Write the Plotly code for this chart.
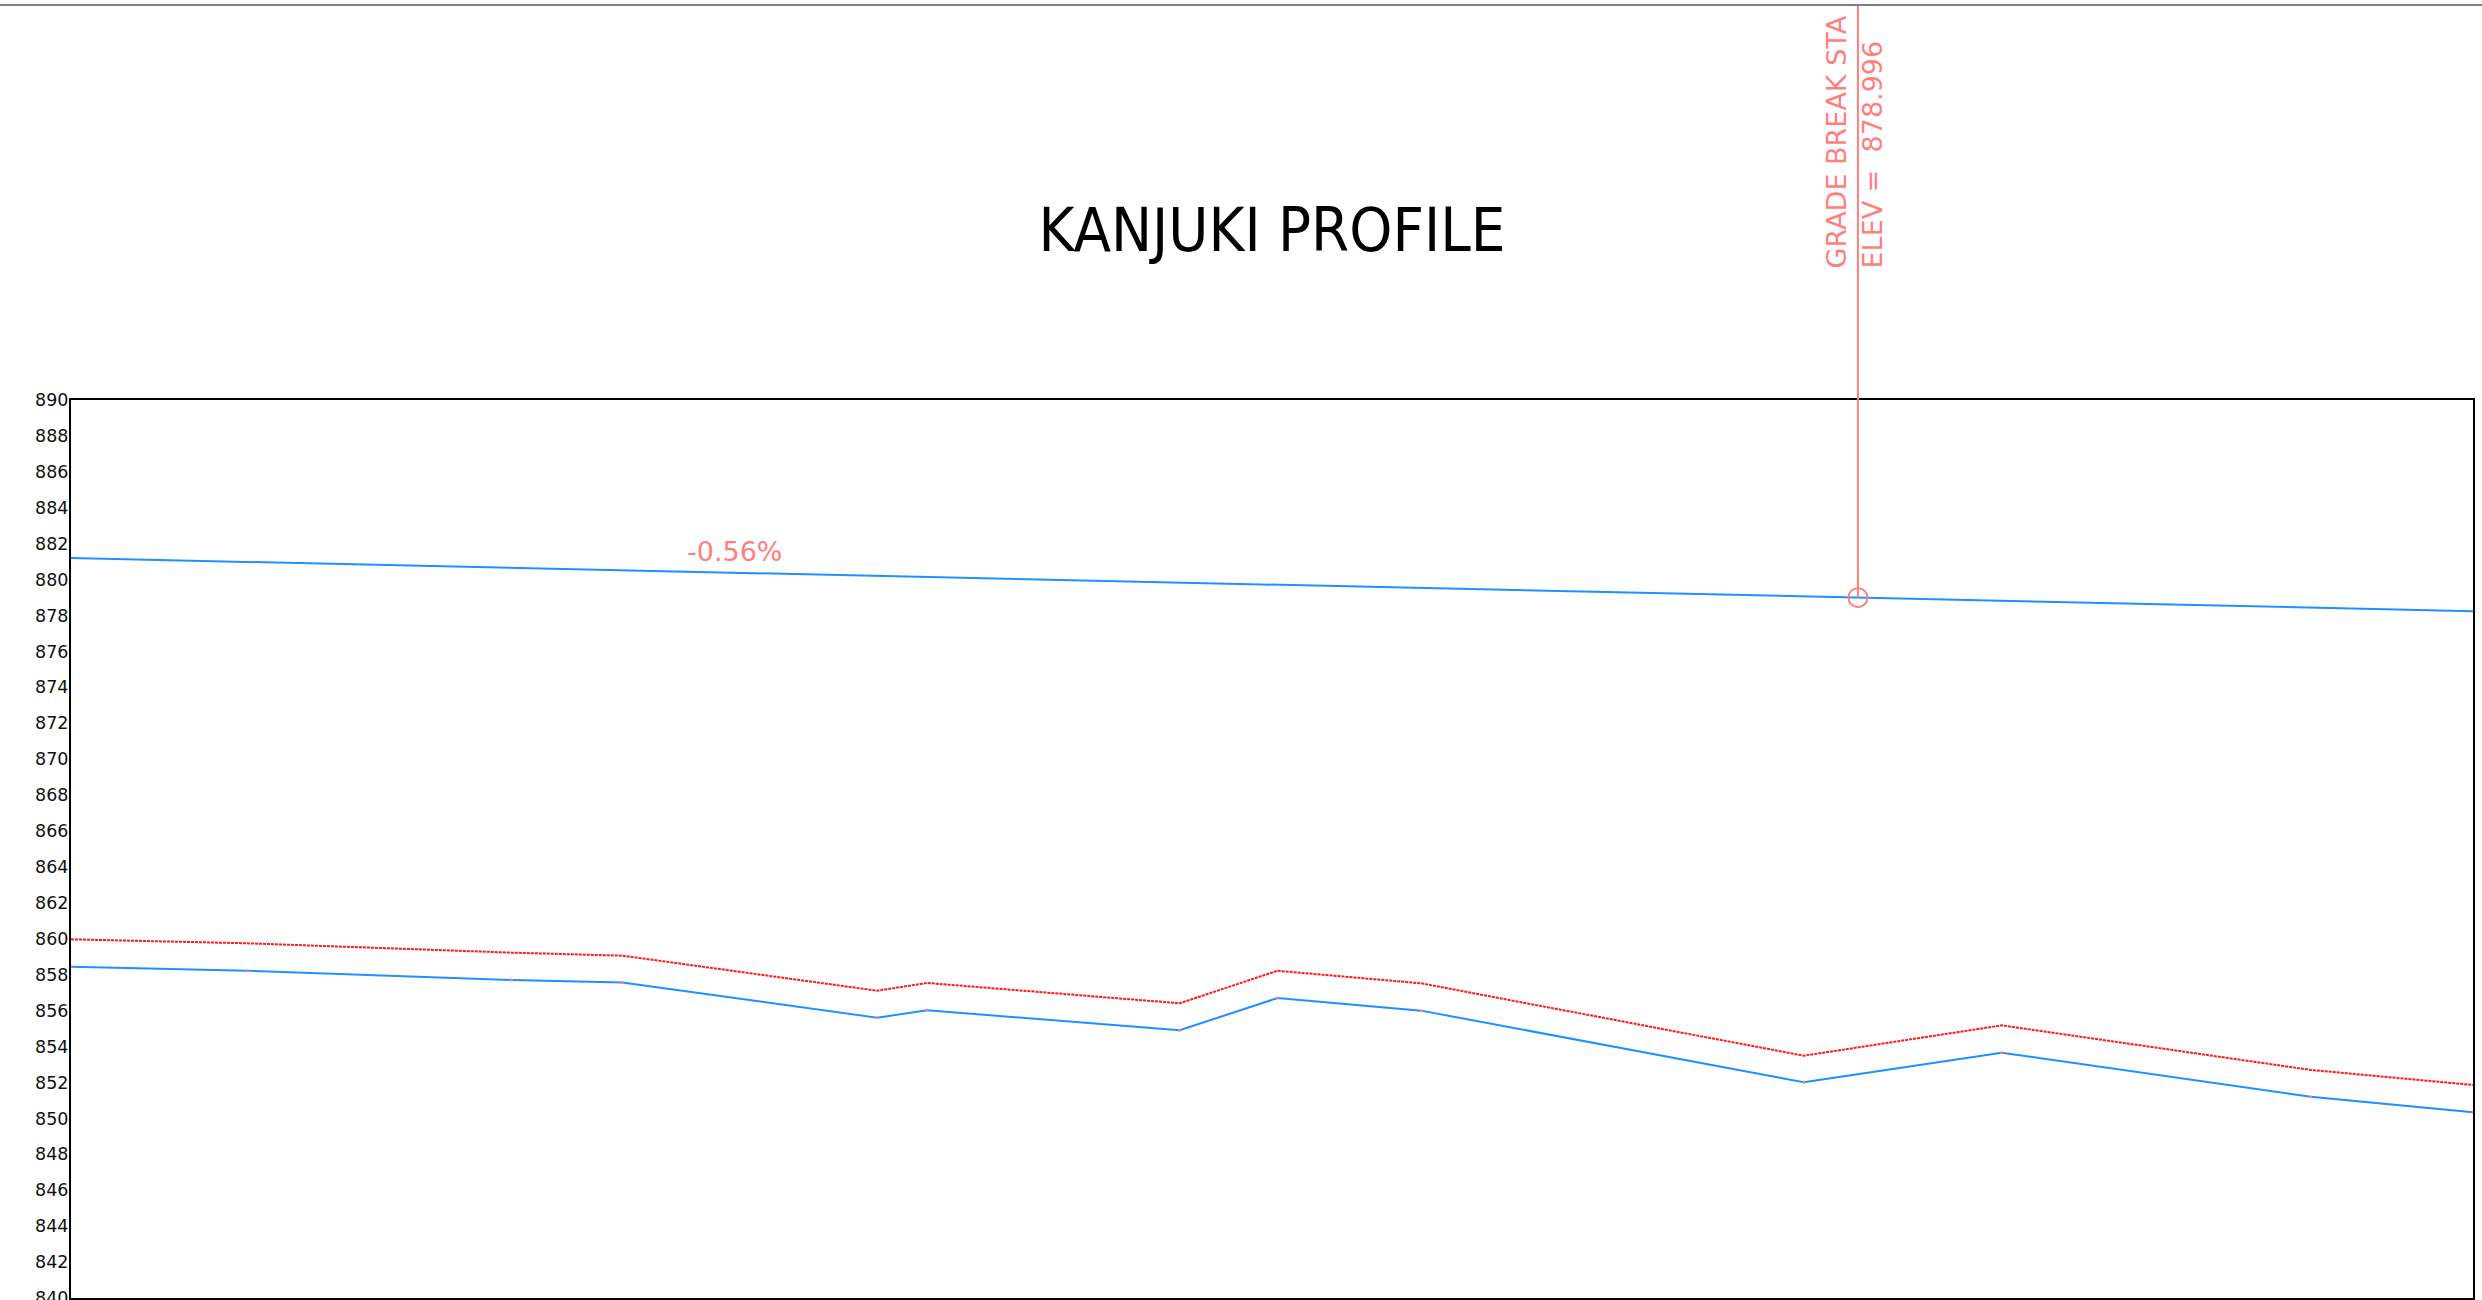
import plotly.graph_objects as go

# ---- data ----
stations = [0, 38.8, 96.8, 121.2, 177.2, 188.2, 243.7, 265.2, 296.8, 380.9, 424.4, 492.3, 528]
ground_red = [859.97, 859.75, 859.23, 859.06, 857.11, 857.54, 856.41, 858.22, 857.52, 853.49, 855.18, 852.70, 851.86]
ground_blue = [858.45, 858.22, 857.71, 857.56, 855.61, 856.02, 854.91, 856.70, 856.00, 852.01, 853.66, 851.21, 850.34]

design_sta = [0, 392.8, 528]
design_elev = [881.20, 878.996, 878.24]

grade_break_sta = 392.8
grade_break_elev = 878.996
slope_label = "-0.56%"
slope_label_sta = 146

y_min, y_max, y_step = 840, 890, 2
y_ticks = list(range(y_min, y_max + 1, y_step))

SALMON = "#ff7f7f"
BLUE = "#1e90ff"
FONT = "DejaVu Sans, sans-serif"
TITLE_FONT = "DejaVu Sans Condensed, DejaVu Sans, sans-serif"

fig = go.Figure()

fig.add_trace(go.Scatter(
    x=design_sta, y=design_elev, mode="lines",
    line=dict(color=BLUE, width=2), hoverinfo="skip", showlegend=False))

fig.add_trace(go.Scatter(
    x=stations, y=ground_red, mode="lines",
    line=dict(color="#ff1a1a", width=2, dash="3px,1px"), hoverinfo="skip", showlegend=False))

fig.add_trace(go.Scatter(
    x=stations, y=ground_blue, mode="lines+markers",
    line=dict(color=BLUE, width=2),
    marker=dict(color=SALMON, size=3, line=dict(width=0)),
    hoverinfo="skip", showlegend=False))

fig.add_trace(go.Scatter(
    x=[grade_break_sta], y=[grade_break_elev], mode="markers",
    marker=dict(symbol="circle-open", size=19, color=SALMON, line=dict(width=2, color=SALMON)),
    hoverinfo="skip", showlegend=False))

# geometry helpers
W, H = 2482, 1300
ML, MR, MT, MB = 71, 9, 400, 2
plot_h = H - MT - MB
plot_w = W - ML - MR
def paper_y(px):
    return 1 + (MT - px) / plot_h

top_line_y = paper_y(5)
gb_paper = (grade_break_elev - y_min) / (y_max - y_min)

# vertical grade-break leader
fig.add_shape(type="line", xref="x", yref="paper",
              x0=grade_break_sta, x1=grade_break_sta, y0=gb_paper, y1=top_line_y,
              line=dict(color=SALMON, width=2), layer="above")
# top frame line
fig.add_shape(type="line", xref="paper", yref="paper",
              x0=-ML / plot_w, x1=1 + MR / plot_w, y0=top_line_y, y1=top_line_y,
              line=dict(color="#808080", width=2))

fig.add_annotation(
    x=grade_break_sta, xref="x", y=paper_y(270), yref="paper",
    text="GRADE BREAK STA<br>ELEV =\u00a0\u00a0" + f"{grade_break_elev:.3f}",
    textangle=-90, align="left", showarrow=False,
    xanchor="center", yanchor="bottom", xshift=-3,
    font=dict(family=FONT, size=27, color=SALMON))

# slope label
def design_at(s):
    for i in range(len(design_sta) - 1):
        if design_sta[i] <= s <= design_sta[i + 1]:
            t = (s - design_sta[i]) / (design_sta[i + 1] - design_sta[i])
            return design_elev[i] + t * (design_elev[i + 1] - design_elev[i])
    return design_elev[-1]

fig.add_annotation(
    x=slope_label_sta, xref="x", y=design_at(slope_label_sta), yref="y",
    text=slope_label, showarrow=False, yanchor="bottom", yshift=4,
    font=dict(family=FONT, size=27, color=SALMON))

fig.update_layout(
    width=W, height=H,
    margin=dict(l=ML, r=MR, t=MT, b=MB, pad=0),
    paper_bgcolor="white", plot_bgcolor="white",
    title=dict(text="KANJUKI PROFILE", x=0.5, xref="paper", y=1 - 230 / H, yanchor="middle",
               font=dict(family=TITLE_FONT, size=61, color="black")),
    font=dict(family=FONT, color="black"),
)

fig.update_xaxes(range=[stations[0], stations[-1]], showgrid=False, zeroline=False,
                 showticklabels=False, ticks="", showline=True, mirror=True,
                 linecolor="black", linewidth=2, automargin=False)
fig.update_yaxes(range=[y_min, y_max], tickvals=y_ticks, showgrid=False, zeroline=False,
                 ticks="", showline=True, mirror=True, linecolor="black", linewidth=2,
                 ticklabelstandoff=-3, ticklabeloverflow="allow",
                 tickfont=dict(family=FONT, size=17.5, color="#111111"), automargin=False)

fig.write_html("out.html", config={"displayModeBar": False},
               post_script="document.body.style.margin='0';document.body.style.overflow='hidden';")
